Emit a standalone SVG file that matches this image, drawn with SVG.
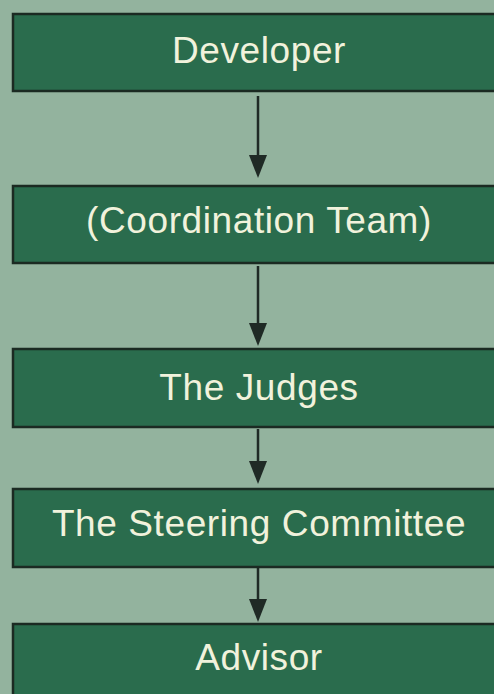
<svg xmlns="http://www.w3.org/2000/svg" width="494" height="694" viewBox="0 0 494 694">
<style>
.box{fill:#2a6c4d;stroke:#1b2a22;stroke-width:2.5}
.lbl{font-family:"Liberation Sans",Arial,sans-serif;font-size:37px;fill:#f1f2dc;text-anchor:middle;letter-spacing:0.6px}
.con{stroke:#1f2a25;stroke-width:2.5;fill:none}
.head{fill:#1f2a25}
</style>
<rect width="494" height="694" fill="#93b39e"/>
<g id="connectors">
<line class="con" x1="258" y1="96" x2="258" y2="160"/>
<polygon class="head" points="249,155 267,155 258,178"/>
<line class="con" x1="258" y1="266" x2="258" y2="328"/>
<polygon class="head" points="249,323 267,323 258,346"/>
<line class="con" x1="258" y1="429" x2="258" y2="466"/>
<polygon class="head" points="249,461 267,461 258,484"/>
<line class="con" x1="258" y1="568" x2="258" y2="604"/>
<polygon class="head" points="249,599 267,599 258,622"/>
</g>
<g id="developer">
<rect class="box" x="13" y="14" width="490" height="77"/>
<text class="lbl" x="259" y="63">Developer</text>
</g>
<g id="coordination">
<rect class="box" x="13" y="186" width="490" height="77"/>
<text class="lbl" x="259" y="233">(Coordination Team)</text>
</g>
<g id="judges">
<rect class="box" x="13" y="349" width="490" height="78"/>
<text class="lbl" x="259" y="400">The Judges</text>
</g>
<g id="steering">
<rect class="box" x="13" y="489" width="490" height="78"/>
<text class="lbl" x="259" y="536">The Steering Committee</text>
</g>
<g id="advisor">
<rect class="box" x="13" y="624" width="490" height="80"/>
<text class="lbl" x="259" y="670">Advisor</text>
</g>
</svg>
